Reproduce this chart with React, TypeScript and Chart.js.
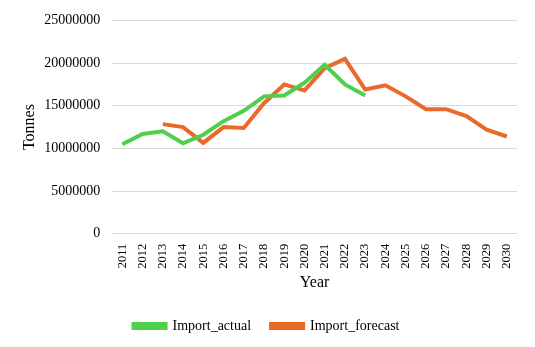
import React, { useEffect, useRef } from "react";
import { Chart, registerables } from "chart.js";
Chart.register(...registerables);

const years = ["2011","2012","2013","2014","2015","2016","2017","2018","2019","2020","2021","2022","2023","2024","2025","2026","2027","2028","2029","2030"];
const importActual = [10500000, 11700000, 12000000, 10600000, 11600000, 13200000, 14400000, 16100000, 16200000, 17700000, 19800000, 17500000, 16200000, null, null, null, null, null, null, null];
const importForecast = [null, null, 12850000, 12500000, 10650000, 12500000, 12400000, 15300000, 17500000, 16800000, 19400000, 20500000, 16900000, 17400000, 16100000, 14600000, 14600000, 13800000, 12200000, 11400000];
const yTicks = [0, 5000000, 10000000, 15000000, 20000000, 25000000];

const FONT = "'Liberation Serif', 'Times New Roman', serif";

export default function App() {
  const ref = useRef<HTMLCanvasElement>(null);
  useEffect(() => {
    if (!ref.current) return;
    const chart = new Chart(ref.current, {
      type: "line",
      data: {
        labels: years,
        datasets: [
          { label: "Import_actual", data: importActual, borderColor: "#4fcf4a", backgroundColor: "#4fcf4a", borderWidth: 4, pointRadius: 0, tension: 0, spanGaps: false },
          { label: "Import_forecast", data: importForecast, borderColor: "#ea6a2b", backgroundColor: "#ea6a2b", borderWidth: 4, pointRadius: 0, tension: 0, spanGaps: false },
        ],
      },
      options: {
        animation: false,
        responsive: false,
        maintainAspectRatio: false,
        layout: { padding: { left: 16, right: 18, top: 1, bottom: 4 } },
        plugins: {
          tooltip: { enabled: false },
          legend: {
            position: "bottom",
            labels: { boxWidth: 32, boxHeight: 4, color: "#000", font: { family: FONT, size: 14 }, padding: 20 },
          },
        },
        scales: {
          x: {
            offset: true,
            grid: { display: false },
            border: { display: false },
            ticks: { color: "#000", font: { family: FONT, size: 12.5 }, maxRotation: 90, minRotation: 90, padding: 2, autoSkip: false },
            title: { display: true, text: "Year", color: "#000", font: { family: FONT, size: 16 }, padding: { top: 2, bottom: 7 } },
          },
          y: {
            min: 0,
            max: 25000000,
            afterBuildTicks: (axis: any) => { axis.ticks = yTicks.map((v) => ({ value: v })); },
            grid: { color: "#d9d9d9", lineWidth: 1, drawTicks: false },
            border: { display: false },
            ticks: { color: "#000", font: { family: FONT, size: 14 }, padding: 12, callback: (v: any) => String(v) },
            title: { display: true, text: "Tonnes", color: "#000", font: { family: FONT, size: 16 }, padding: { top: 4, bottom: -7 } },
          },
        },
      },
    });
    return () => chart.destroy();
  }, []);
  return (
    <div style={{ position: "fixed", left: 0, top: 0, width: 535, height: 347, background: "#fff" }}>
      <canvas ref={ref} width={535} height={347} style={{ width: 535, height: 347 }} />
    </div>
  );
}
